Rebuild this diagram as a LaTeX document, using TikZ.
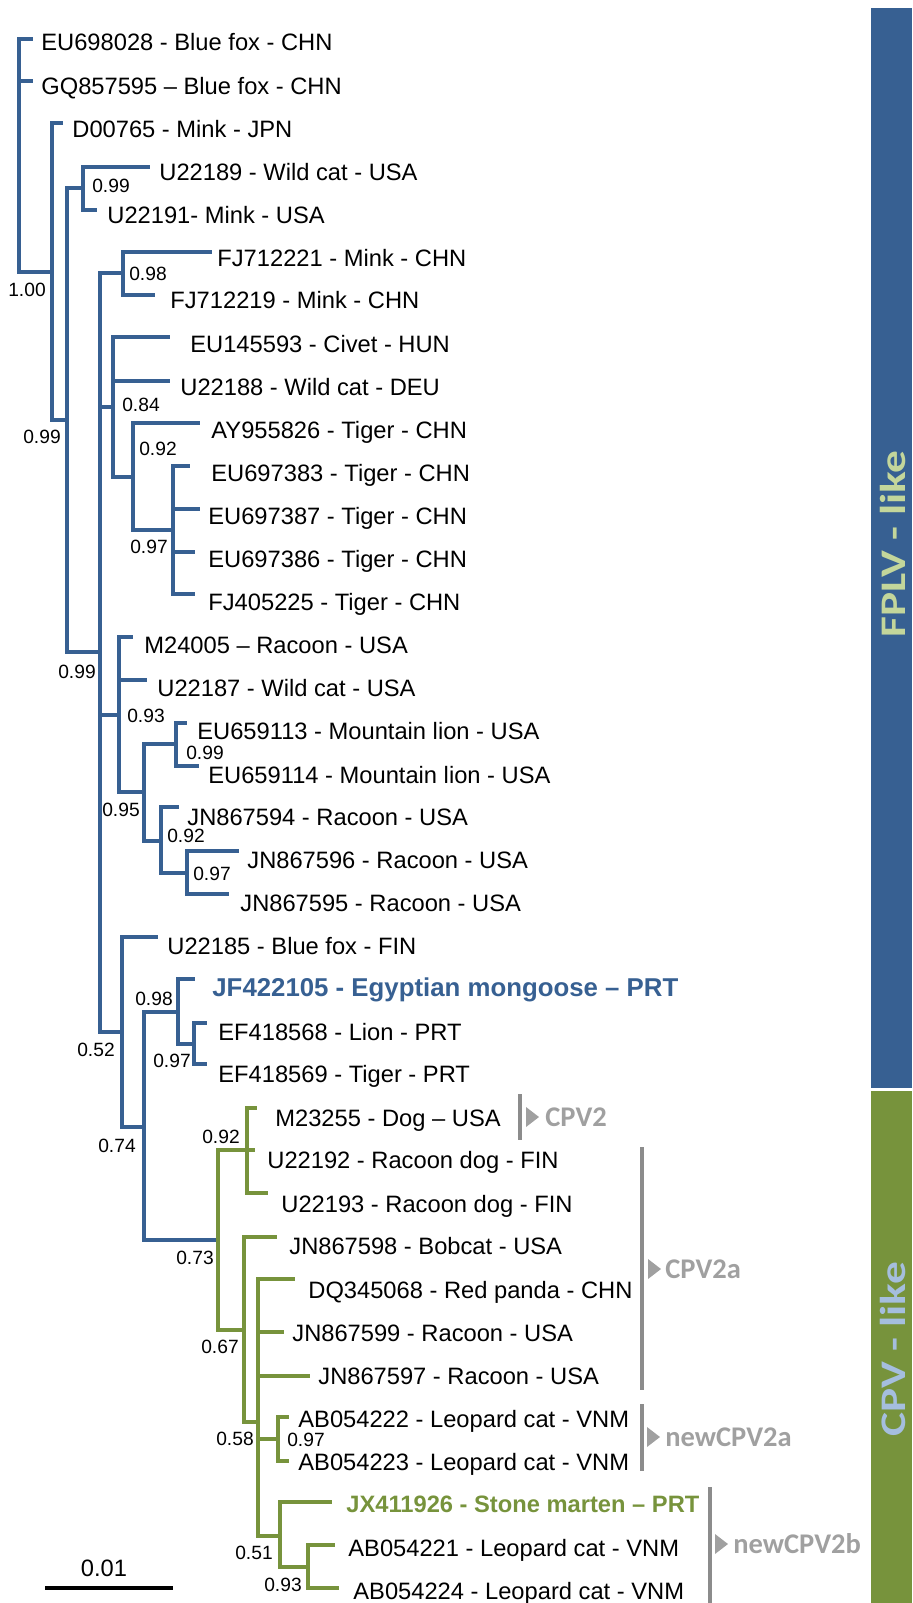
\documentclass[tikz,border=0pt]{standalone}
\usepackage{fontspec}
\setmainfont{Liberation Sans}
\newfontfamily\cfont{Carlito}
\usetikzlibrary{positioning, calc}

\definecolor{fplvblue}{RGB}{55,96,146}
\definecolor{cpvgreen}{RGB}{119,147,60}
\definecolor{cladegray}{RGB}{140,140,140}
\definecolor{labelgray}{RGB}{160,160,160}
\definecolor{fplvtext}{RGB}{195,214,155}
\definecolor{cpvtext}{RGB}{165,190,222}
\newcommand{\taxfont}{\fontsize{11.85}{14}\selectfont}
\newcommand{\suppfont}{\fontsize{9.6}{11}\selectfont}

\tikzset{
  taxon/.style  = {anchor=base west, inner sep=0pt, font=\taxfont},
  hit/.style    = {anchor=base west, inner sep=0pt, font=\taxfont\bfseries},
  supp/.style   = {inner sep=0pt, font=\suppfont},
  clade/.style  = {anchor=west, inner sep=0pt, text=labelgray,
                   font=\cfont\bfseries\fontsize{14.25}{16}\selectfont}
}

\begin{document}
\begin{tikzpicture}[
  x=0.5pt, y=-0.5pt,
  fplvline/.style={draw=fplvblue, line width=1.6pt},
  cpvline/.style={draw=cpvgreen, line width=1.6pt},
  bracket/.style={draw=cladegray, line width=2.15pt},
  barlab/.style={rotate=90, xscale=1.26, inner sep=0pt,
                 font=\cfont\bfseries\fontsize{18}{20}\selectfont}
]
\useasboundingbox (0,0) rectangle (912,1603);

%% Side bars
\fill[fplvblue] (871,8) rectangle (912,1088);
\fill[cpvgreen] (871,1091) rectangle (912,1603);
\node[barlab, text=fplvtext] (fplv) at (893,544) {FPLV - like};
\node[barlab, text=cpvtext]  (cpv)  at (893,1349) {CPV - like};

%% Internal nodes
\coordinate (root) at (19,155);
\coordinate (nA) at (52,272);
\coordinate (nB) at (67,420);
\coordinate (nC) at (83,188);
\coordinate (nD) at (100,652);
\coordinate (nE) at (123,273);
\coordinate (nF) at (113,407);
\coordinate (nG) at (133,477);
\coordinate (nH) at (173,530);
\coordinate (nJ) at (119,715);
\coordinate (nK) at (144,792);
\coordinate (nL) at (176,744);
\coordinate (nM) at (161,841);
\coordinate (nN) at (187,873);
\coordinate (nI) at (122,1032);
\coordinate (nO) at (144,1127);
\coordinate (nP) at (178,1012);
\coordinate (nQ) at (194,1044);
\coordinate (nR) at (218,1240);
\coordinate (nS) at (247,1150);
\coordinate (nT) at (244,1330);
\coordinate (nU) at (258,1422);
\coordinate (nV) at (278,1439);
\coordinate (nW) at (280,1536);
\coordinate (nX) at (308,1567);

%% Branch tips
\coordinate (tip1) at (33,39);
\coordinate (tip2) at (33,81);
\coordinate (tip3) at (63,123);
\coordinate (tip4) at (150,167);
\coordinate (tip5) at (97,210);
\coordinate (tip6) at (212,252);
\coordinate (tip7) at (155,295);
\coordinate (tip8) at (170,337);
\coordinate (tip9) at (170,381);
\coordinate (tip10) at (200,423);
\coordinate (tip11) at (190,466);
\coordinate (tip12) at (200,509);
\coordinate (tip13) at (195,552);
\coordinate (tip14) at (195,594);
\coordinate (tip15) at (133,637);
\coordinate (tip16) at (147,680);
\coordinate (tip17) at (187,723);
\coordinate (tip18) at (199,766);
\coordinate (tip19) at (179,807);
\coordinate (tip20) at (239,851);
\coordinate (tip21) at (229,894);
\coordinate (tip22) at (158,937);
\coordinate (tip23) at (195,979);
\coordinate (tip24) at (207,1023);
\coordinate (tip25) at (207,1064);
\coordinate (tip26) at (257,1108);
\coordinate (tip27) at (255,1150);
\coordinate (tip28) at (268,1193);
\coordinate (tip29) at (277,1237);
\coordinate (tip30) at (295,1279);
\coordinate (tip31) at (284,1332);
\coordinate (tip32) at (310,1376);
\coordinate (tip33) at (289,1417);
\coordinate (tip34) at (289,1461);
\coordinate (tip35) at (332,1502);
\coordinate (tip36) at (335,1545);
\coordinate (tip37) at (339,1588);

%% FPLV-like branches
\draw[fplvline] (root) |- (tip1) (root) |- (tip2) (root) |- (nA);
\draw[fplvline] (nA) |- (tip3) (nA) |- (nB);
\draw[fplvline] (nB) |- (nC) (nB) |- (nD);
\draw[fplvline] (nC) |- (tip4) (nC) |- (tip5);
\draw[fplvline] (nD) |- (nE) (nD) |- (nF) (nD) |- (nJ) (nD) |- (nI);
\draw[fplvline] (nE) |- (tip6) (nE) |- (tip7);
\draw[fplvline] (nF) |- (tip8) (nF) |- (tip9) (nF) |- (nG);
\draw[fplvline] (nG) |- (tip10) (nG) |- (nH);
\draw[fplvline] (nH) |- (tip11) (nH) |- (tip12) (nH) |- (tip13) (nH) |- (tip14);
\draw[fplvline] (nJ) |- (tip15) (nJ) |- (tip16) (nJ) |- (nK);
\draw[fplvline] (nK) |- (nL) (nK) |- (nM);
\draw[fplvline] (nL) |- (tip17) (nL) |- (tip18);
\draw[fplvline] (nM) |- (tip19) (nM) |- (nN);
\draw[fplvline] (nN) |- (tip20) (nN) |- (tip21);
\draw[fplvline] (nI) |- (tip22) (nI) |- (nO);
\draw[fplvline] (nO) |- (nP) (nO) |- (nR);
\draw[fplvline] (nP) |- (tip23) (nP) |- (nQ);
\draw[fplvline] (nQ) |- (tip24) (nQ) |- (tip25);

%% CPV-like branches
\draw[cpvline] (nR) |- (nS) (nR) |- (nT);
\draw[cpvline] (nS) |- (tip26) (nS) |- (tip27) (nS) |- (tip28);
\draw[cpvline] (nT) |- (tip29) (nT) |- (nU);
\draw[cpvline] (nU) |- (tip30) (nU) |- (tip31) (nU) |- (tip32)
               (nU) |- (nV) (nU) |- (nW);
\draw[cpvline] (nV) |- (tip33) (nV) |- (tip34);
\draw[cpvline] (nW) |- (tip35) (nW) |- (nX);
\draw[cpvline] (nX) |- (tip36) (nX) |- (tip37);

%% Taxa
\node[taxon] (EU698028) at (41,50)   {EU698028 - Blue fox - CHN};
\node[taxon] (GQ857595) at (41,94)   {GQ857595 – Blue fox - CHN};
\node[taxon] (D00765)   at (72,137)  {D00765 - Mink - JPN};
\node[taxon] (U22189)   at (159,180) {U22189 - Wild cat - USA};
\node[taxon] (U22191)   at (107,223) {U22191- Mink - USA};
\node[taxon] (FJ712221) at (217,266) {FJ712221 - Mink - CHN};
\node[taxon] (FJ712219) at (170,308) {FJ712219 - Mink - CHN};
\node[taxon] (EU145593) at (190,352) {EU145593 - Civet - HUN};
\node[taxon] (U22188)   at (180,395) {U22188 - Wild cat - DEU};
\node[taxon] (AY955826) at (211,438) {AY955826 - Tiger - CHN};
\node[taxon] (EU697383) at (211,481) {EU697383 - Tiger - CHN};
\node[taxon] (EU697387) at (208,524) {EU697387 - Tiger - CHN};
\node[taxon] (EU697386) at (208,567) {EU697386 - Tiger - CHN};
\node[taxon] (FJ405225) at (208,610) {FJ405225 - Tiger - CHN};
\node[taxon] (M24005)   at (144,653) {M24005 – Racoon - USA};
\node[taxon] (U22187)   at (157,696) {U22187 - Wild cat - USA};
\node[taxon] (EU659113) at (197,739) {EU659113 - Mountain lion - USA};
\node[taxon] (EU659114) at (208,783) {EU659114 - Mountain lion - USA};
\node[taxon] (JN867594) at (187,825) {JN867594 - Racoon - USA};
\node[taxon] (JN867596) at (247,868) {JN867596 - Racoon - USA};
\node[taxon] (JN867595) at (240,911) {JN867595 - Racoon - USA};
\node[taxon] (U22185)   at (167,954) {U22185 - Blue fox - FIN};
\node[hit, text=fplvblue, font=\fontsize{12.9}{15}\selectfont\bfseries]
  (JF422105) at (212,996) {JF422105 - Egyptian mongoose – PRT};
\node[taxon] (EF418568) at (218,1040) {EF418568 - Lion - PRT};
\node[taxon] (EF418569) at (218,1082) {EF418569 - Tiger - PRT};
\node[taxon] (M23255)   at (275,1126) {M23255 - Dog – USA};
\node[taxon] (U22192)   at (267,1168) {U22192 - Racoon dog - FIN};
\node[taxon] (U22193)   at (281,1212) {U22193 - Racoon dog - FIN};
\node[taxon] (JN867598) at (289,1254) {JN867598 - Bobcat - USA};
\node[taxon] (DQ345068) at (308,1298) {DQ345068 - Red panda - CHN};
\node[taxon] (JN867599) at (292,1341) {JN867599 - Racoon - USA};
\node[taxon] (JN867597) at (318,1384) {JN867597 - Racoon - USA};
\node[taxon] (AB054222) at (298,1427) {AB054222 - Leopard cat - VNM};
\node[taxon] (AB054223) at (298,1470) {AB054223 - Leopard cat - VNM};
\node[hit, text=cpvgreen] (JX411926) at (346,1512)
  {JX411926 - Stone marten – PRT};
\node[taxon] (AB054221) at (348,1556) {AB054221 - Leopard cat - VNM};
\node[taxon] (AB054224) at (353,1599) {AB054224 - Leopard cat - VNM};

%% Support values
\node[supp] (sA) at (27,290)   {1.00};
\node[supp] (sC) at (111,186)  {0.99};
\node[supp] (sE) at (148,274)  {0.98};
\node[supp] (sB) at (42,437)   {0.99};
\node[supp] (sF) at (141,405)  {0.84};
\node[supp] (sG) at (158,449)  {0.92};
\node[supp] (sH) at (149,547)  {0.97};
\node[supp] (sD) at (77,672)   {0.99};
\node[supp] (sJ) at (146,716)  {0.93};
\node[supp] (sL) at (205,753)  {0.99};
\node[supp] (sK) at (121,810)  {0.95};
\node[supp] (sM) at (186,836)  {0.92};
\node[supp] (sN) at (212,874)  {0.97};
\node[supp] (sP) at (154,999)  {0.98};
\node[supp] (sI) at (96,1050)  {0.52};
\node[supp] (sQ) at (172,1061) {0.97};
\node[supp] (sO) at (117,1146) {0.74};
\node[supp] (sS) at (221,1137) {0.92};
\node[supp] (sR) at (195,1258) {0.73};
\node[supp] (sT) at (220,1347) {0.67};
\node[supp] (sU) at (235,1439) {0.58};
\node[supp] (sV) at (306,1440) {0.97};
\node[supp] (sW) at (254,1553) {0.51};
\node[supp] (sX) at (283,1585) {0.93};

%% Clade brackets
\coordinate (b2top) at (520,1094);  \coordinate (b2bot) at (520,1140);
\coordinate (b2atop) at (642,1147); \coordinate (b2abot) at (642,1390);
\coordinate (bn2atop) at (642,1404); \coordinate (bn2abot) at (642,1471);
\coordinate (bn2btop) at (710,1487); \coordinate (bn2bbot) at (710,1603);
\draw[bracket] (b2top) -- (b2bot);
\draw[bracket] (b2atop) -- (b2abot);
\draw[bracket] (bn2atop) -- (bn2abot);
\draw[bracket] (bn2btop) -- (bn2bbot);
\fill[labelgray] (526,1107) -- (539,1117) -- (526,1127) -- cycle;
\fill[labelgray] (648,1259) -- (661,1269) -- (648,1279) -- cycle;
\fill[labelgray] (647,1427) -- (660,1437) -- (647,1447) -- cycle;
\fill[labelgray] (715,1534) -- (728,1544) -- (715,1554) -- cycle;
\node[clade] (cpv2)    at (545,1117) {CPV2};
\node[clade] (cpv2a)   at (665,1269) {CPV2a};
\node[clade] (ncpv2a)  at (665,1437) {newCPV2a};
\node[clade] (ncpv2b)  at (733,1544) {newCPV2b};

%% Scale bar
\coordinate (sbl) at (45,1588);
\coordinate (sbr) at (173,1588);
\draw[line width=2pt] (sbl) -- (sbr);
\node[inner sep=0pt, font=\taxfont] (sblab) at (104,1568) {0.01};

\end{tikzpicture}
\end{document}
